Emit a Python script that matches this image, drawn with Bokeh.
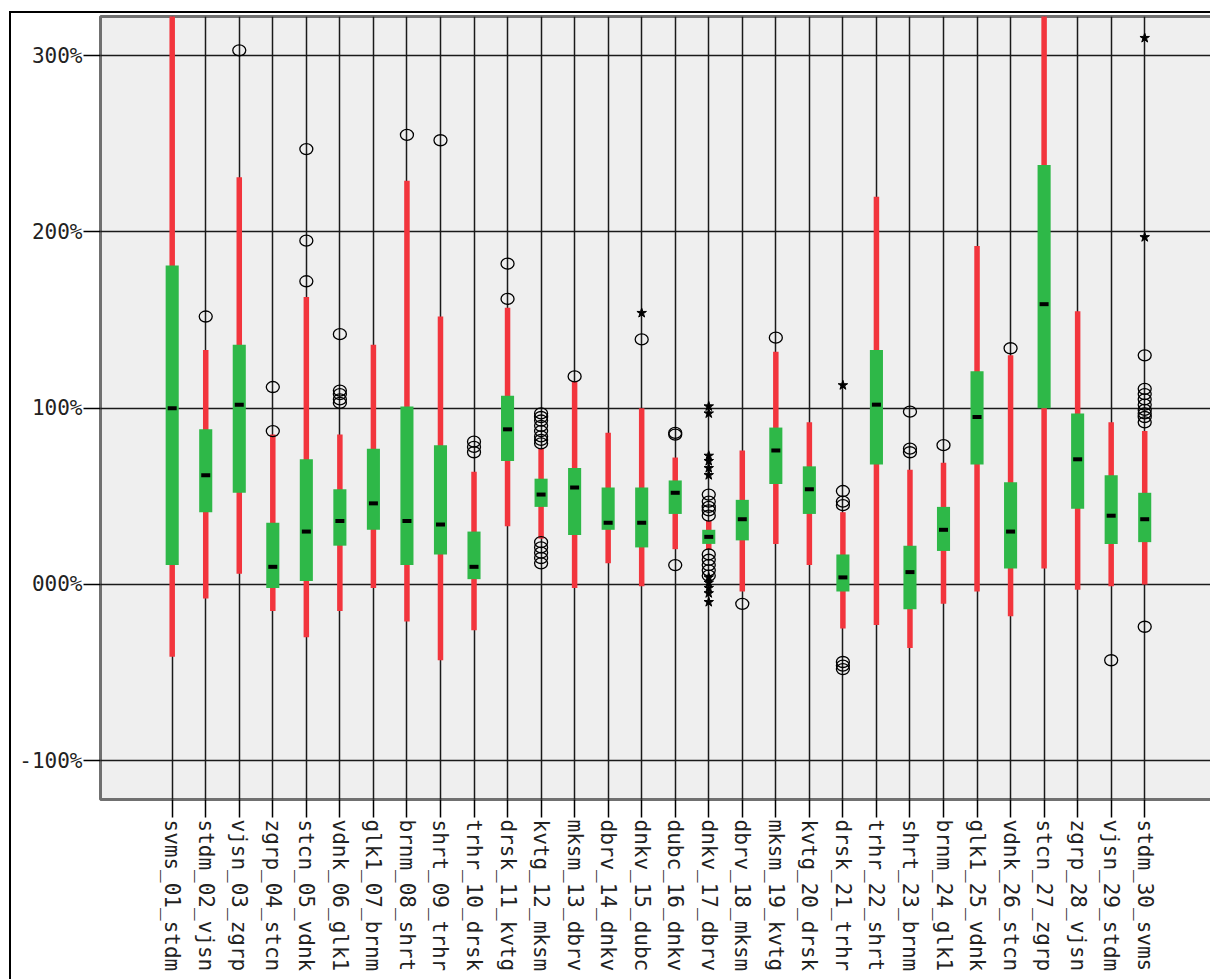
import math
from bokeh.plotting import figure
from bokeh.models import Range1d, FixedTicker, ColumnDataSource
from bokeh.embed import file_html
from bokeh.resources import INLINE

categories = [
    "svms_01_stdm", "stdm_02_vjsn", "vjsn_03_zgrp", "zgrp_04_stcn", "stcn_05_vdnk",
    "vdnk_06_glk1", "glk1_07_brnm", "brnm_08_shrt", "shrt_09_trhr", "trhr_10_drsk",
    "drsk_11_kvtg", "kvtg_12_mksm", "mksm_13_dbrv", "dbrv_14_dnkv", "dnkv_15_dubc",
    "dubc_16_dnkv", "dnkv_17_dbrv", "dbrv_18_mksm", "mksm_19_kvtg", "kvtg_20_drsk",
    "drsk_21_trhr", "trhr_22_shrt", "shrt_23_brnm", "brnm_24_glk1", "glk1_25_vdnk",
    "vdnk_26_stcn", "stcn_27_zgrp", "zgrp_28_vjsn", "vjsn_29_stdm", "stdm_30_svms",
]
whisker_low = [-41, -8, 6, -15, -30, -15, -2, -21, -43, -26, 33, 26, -2, 12, -1,
               20, 20, -4, 23, 11, -25, -23, -36, -11, -4, -18, 9, -3, -1, 0]
q1 = [11, 41, 52, -2, 2, 22, 31, 11, 17, 3, 70, 44, 28, 31, 21,
      40, 23, 25, 57, 40, -4, 68, -14, 19, 68, 9, 100, 43, 23, 24]
median = [100, 62, 102, 10, 30, 36, 46, 36, 34, 10, 88, 51, 55, 35, 35,
          52, 27, 37, 76, 54, 4, 102, 7, 31, 95, 30, 159, 71, 39, 37]
q3 = [181, 88, 136, 35, 71, 54, 77, 101, 79, 30, 107, 60, 66, 55, 55,
      59, 31, 48, 89, 67, 17, 133, 22, 44, 121, 58, 238, 97, 62, 52]
whisker_high = [340, 133, 231, 85, 163, 85, 136, 229, 152, 64, 157, 77, 115, 86, 100,
                72, 36, 76, 132, 92, 41, 220, 65, 69, 192, 130, 340, 155, 92, 87]
outliers = [
    [], [152], [303], [112, 87], [247, 195, 172],
    [142, 110, 108, 105, 103], [], [255], [252], [81, 78, 75],
    [182, 162], [97, 95, 93, 90, 87, 84, 82, 80, 24, 21, 18, 15, 12], [118], [], [139],
    [86, 85, 11], [51, 47, 44, 42, 39, 17, 14, 11, 8, 5], [-11], [140], [],
    [53, 47, 45, -44, -46, -48], [], [98, 77, 75], [79], [],
    [134], [], [], [-43], [130, 111, 108, 105, 102, 99, 97, 95, 92, -24],
]
extremes = [
    [], [], [], [], [], [], [], [], [], [],
    [], [], [], [], [154],
    [], [101, 97, 73, 70, 66, 62, 4, 1, -2, -5, -10], [], [], [],
    [113], [], [], [], [],
    [], [], [], [], [310, 197],
]
y_ticks = [-100, 0, 100, 200, 300]
y_tick_labels = ["-100%", "000%", "100%", "200%", "300%"]

xs = list(range(1, len(categories) + 1))

p = figure(
    width=1209, height=974,
    x_range=Range1d(-1.138, 32.26), y_range=Range1d(-122, 322.2),
    output_backend="svg", toolbar_location=None,
    min_border_left=89, min_border_top=3, min_border_right=0, min_border_bottom=188,
    background_fill_color="#efefef", border_fill_color="white",
)
p.styles = {"border-left": "2px solid black", "border-top": "2px solid black",
            "margin-left": "9px", "margin-top": "11px", "margin-bottom": "-60px",
            "margin-right": "-30px"}

p.outline_line_color = "#707070"
p.outline_line_width = 3

xt = FixedTicker(ticks=xs, minor_ticks=[])
p.xaxis.ticker = xt
p.xgrid.ticker = xt
yt = FixedTicker(ticks=y_ticks, minor_ticks=[])
p.yaxis.ticker = yt
p.ygrid.ticker = yt

p.xaxis.major_label_overrides = {x: c for x, c in zip(xs, categories)}
p.yaxis.major_label_overrides = {t: l for t, l in zip(y_ticks, y_tick_labels)}

for ax in (p.xaxis[0], p.yaxis[0]):
    ax.axis_line_color = None
    ax.major_tick_line_color = "black"
    ax.major_tick_line_width = 1.5
    ax.major_tick_in = 0
    ax.minor_tick_line_color = None
    ax.major_label_text_font = "DejaVu Sans Mono"
    ax.major_label_text_font_size = "21px"
    ax.major_label_text_color = "#222222"
p.xaxis.major_tick_out = 18
p.yaxis.major_tick_out = 17
p.xaxis.major_label_standoff = 2
p.yaxis.major_label_standoff = 1
p.xaxis.major_label_orientation = -math.pi / 2

for g in (p.xgrid[0], p.ygrid[0]):
    g.grid_line_color = "#1a1a1a"
    g.grid_line_width = 1.5

src = ColumnDataSource(dict(x=xs, lo=whisker_low, q1=q1, med=median, q3=q3, hi=whisker_high))
p.segment(x0="x", y0="lo", x1="x", y1="hi", source=src, line_color="#f2353d", line_width=5.5)
p.vbar(x="x", bottom="q1", top="q3", width=0.39, source=src, fill_color="#2eb848", line_color=None)
p.scatter(x="x", y="med", source=src, marker="dash", size=9, line_color="black", line_width=4)

ox, oy = [], []
for x, vals in zip(xs, outliers):
    for v in vals:
        ox.append(x)
        oy.append(v)
p.ellipse(x=ox, y=oy, width=13, height=11, width_units="screen", height_units="screen",
          fill_color=None, line_color="black", line_width=1.3)

ex, ey = [], []
for x, vals in zip(xs, extremes):
    for v in vals:
        ex.append(x)
        ey.append(v)
p.scatter(x=ex, y=ey, marker="star", size=10, fill_color="black", line_color="black")

open("out.html", "w").write(file_html(p, INLINE))
